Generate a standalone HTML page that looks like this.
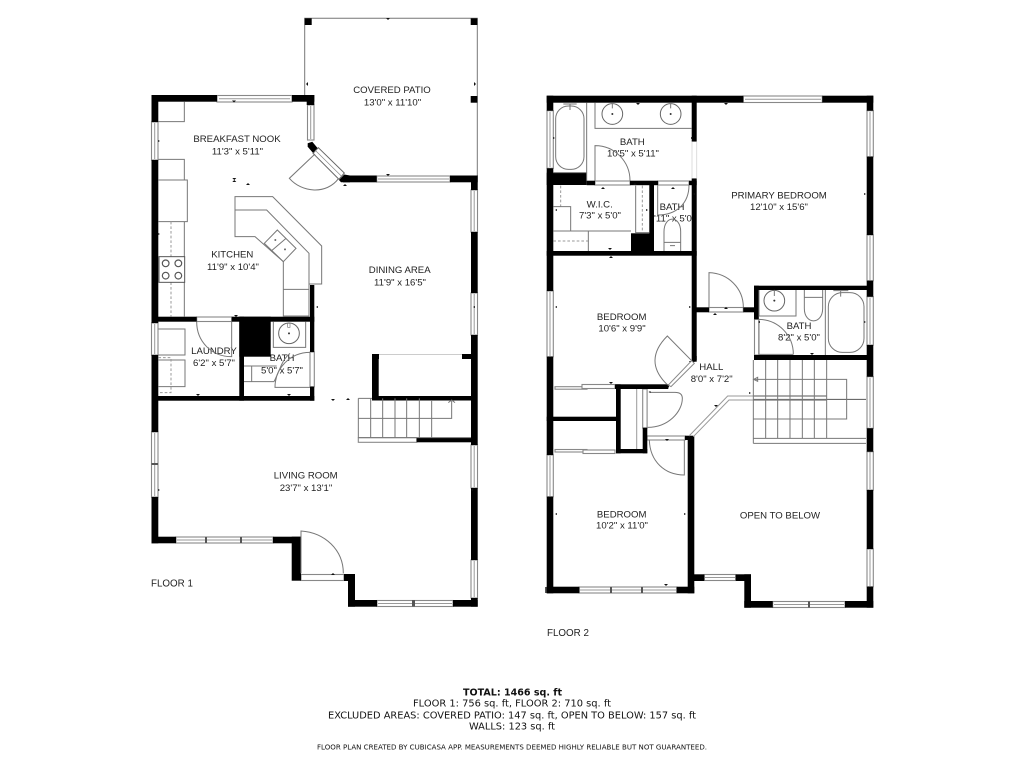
<!DOCTYPE html>
<html><head><meta charset="utf-8"><style>
html,body{margin:0;padding:0;background:#fff}
svg{display:block}
text{font-family:"Liberation Sans",sans-serif;font-size:9.6px;fill:#222;text-anchor:middle}
.b{font-family:"DejaVu Sans",sans-serif;font-size:10px;fill:#111}
.l{fill:none;stroke:#777;stroke-width:1}
.z{fill:none;stroke:#777;stroke-width:3}
.d{fill:none;stroke:#999;stroke-width:3;stroke-dasharray:8 6}
.k rect{fill:#000}
.w rect{fill:#fff;stroke:#888;stroke-width:1.1}
.m{fill:none;stroke:#999;stroke-width:1}
</style></head><body>
<svg width="1024" height="768" viewBox="0 0 1024 768" xmlns="http://www.w3.org/2000/svg">
<defs><clipPath id="c"><rect x="654" y="200" width="38" height="30"/></clipPath></defs>
<rect width="1024" height="768" fill="#fff"/>

<!-- labels -->
<text x="392" y="93">COVERED PATIO</text><text x="392.500" y="105.700">13'0" x 11'10"</text>
<text x="237" y="142">BREAKFAST NOOK</text><text x="237.500" y="154.700">11'3" x 5'11"</text>
<text x="232.300" y="257.700">KITCHEN</text><text x="233" y="270">11'9" x 10'4"</text>
<text x="399.700" y="273">DINING AREA</text><text x="400" y="285.700">11'9" x 16'5"</text>
<text x="214" y="354">LAUNDRY</text><text x="214" y="366">6'2" x 5'7"</text>
<text x="282" y="361">BATH</text><text x="282" y="373.300">5'0" x 5'7"</text>
<text x="305.700" y="478.700">LIVING ROOM</text><text x="306" y="491">23'7" x 13'1"</text>
<text x="632.300" y="145">BATH</text><text x="633" y="156.700">10'5" x 5'11"</text>
<text x="599.700" y="207.300">W.I.C.</text><text x="600" y="218.700">7'3" x 5'0"</text>
<text x="672" y="210">BATH</text><text x="672" y="221.700" clip-path="url(#c)">4'11" x 5'0"</text>
<text x="779" y="198.300">PRIMARY BEDROOM</text><text x="779" y="210">12'10" x 15'6"</text>
<text x="621.700" y="320">BEDROOM</text><text x="622" y="331.700">10'6" x 9'9"</text>
<text x="799" y="329">BATH</text><text x="799" y="340.700">8'2" x 5'0"</text>
<text x="711.300" y="370">HALL</text><text x="711.700" y="382">8'0" x 7'2"</text>
<text x="621.700" y="517.300">BEDROOM</text><text x="622" y="528.700">10'2" x 11'0"</text>
<text x="780" y="518.700">OPEN TO BELOW</text>
<text x="151" y="586.700" style="text-anchor:start;font-size:9.8px">FLOOR 1</text>
<text x="547" y="636" style="text-anchor:start;font-size:9.8px">FLOOR 2</text>

<text class="b" x="512.500" y="695.700" textLength="99" lengthAdjust="spacingAndGlyphs" style="font-weight:bold">TOTAL: 1466 sq. ft</text>
<text class="b" x="512" y="706.700" textLength="198" lengthAdjust="spacingAndGlyphs">FLOOR 1: 756 sq. ft, FLOOR 2: 710 sq. ft</text>
<text class="b" x="512" y="718.700" textLength="368" lengthAdjust="spacingAndGlyphs">EXCLUDED AREAS: COVERED PATIO: 147 sq. ft, OPEN TO BELOW: 157 sq. ft</text>
<text class="b" x="512" y="729.700" textLength="86" lengthAdjust="spacingAndGlyphs">WALLS: 123 sq. ft</text>
<text class="b" x="512" y="749.300" textLength="390" lengthAdjust="spacingAndGlyphs" style="font-size:7px">FLOOR PLAN CREATED BY CUBICASA APP. MEASUREMENTS DEEMED HIGHLY RELIABLE BUT NOT GUARANTEED.</text>

<!-- patio -->
<path class="l" d="M304.700 96V18.300H477.300V176"/>
<path d="M379 354.500H462" stroke="#ccc" stroke-width="1" fill="none"/>

<!-- windows -->
<g class="w">
<rect x="217" y="95.500" width="75" height="6.500"/><rect x="376.700" y="176" width="73.300" height="6"/><rect x="176" y="537" width="97" height="6"/><rect x="377" y="600.500" width="76" height="6"/><rect x="301" y="574.500" width="43" height="6"/>
<rect x="151.500" y="122" width="6.500" height="38"/><rect x="471" y="190" width="6.500" height="42"/><rect x="471" y="293" width="6.500" height="42"/><rect x="151.500" y="323" width="6.500" height="32"/><rect x="151.500" y="432" width="6.500" height="65"/><rect x="471" y="445" width="6.500" height="43"/><rect x="471" y="560" width="6.500" height="38"/><rect x="307.500" y="105" width="6.500" height="35"/>
<rect x="196.700" y="317" width="35" height="4.500"/><rect x="310" y="352" width="4.300" height="34.700"/><rect x="358.300" y="437.700" width="58.400" height="4.600"/>
<rect x="743.300" y="96" width="79" height="6.500"/><rect x="579.300" y="587" width="97.400" height="6"/><rect x="704.300" y="574.500" width="31.400" height="6"/><rect x="772.700" y="601.500" width="72.300" height="6"/>
<rect x="547" y="110.700" width="6.300" height="57.600"/><rect x="547" y="291" width="6.300" height="65.700"/><rect x="547" y="455" width="6.300" height="41.700"/>
<rect x="867" y="110.700" width="6.300" height="46"/><rect x="867" y="235" width="6.300" height="45.700"/><rect x="867" y="296.700" width="6.300" height="48.300"/><rect x="867" y="376.700" width="6.300" height="51.600"/><rect x="867" y="451.700" width="6.300" height="38.300"/><rect x="867" y="549" width="6.300" height="37.700"/>
<rect x="595" y="181" width="35" height="4"/><rect x="658" y="181" width="31" height="4"/><rect x="709" y="307.500" width="34.300" height="4.500"/><rect x="754.500" y="319.300" width="4.300" height="35.700"/><rect x="647" y="436" width="38" height="4"/><rect x="642.700" y="389" width="4.400" height="39"/>
<rect x="555" y="386.700" width="32" height="2.500"/><rect x="582" y="384.500" width="33" height="4"/><rect x="555" y="449.500" width="32" height="2.500"/><rect x="583" y="450" width="32" height="3.500"/>
</g>
<path class="m" d="M219 98.700H290M378 179H449M177 540H272M378 603.500H452M154.700 123V159M474.200 191V231M474.200 294V334M154.700 324V354M154.700 433V496M474.200 446V487M474.200 561V597M310.700 106V139M745 99.200H821M580 590H676M705 577.500H735M774 604.500H844M550 112V167M550 292V356M550 456V496M870 112V156M870 236V280M870 298V344M870 378V427M870 452V489M870 550V586"/>
<path d="M205 537h2v6h-2zM240 537h2v6h-2zM412 600h3v6.500h-3zM545 587h2v6h-2zM610 587h2v6h-2zM641 587h2v6h-2zM808 601.500h2v6h-2zM151.500 463h6.500v2h-6.500z" fill="#555"/>

<!-- walls -->
<g class="k">
<rect x="151.500" y="95" width="65.500" height="6.700"/><rect x="292" y="95" width="22.300" height="6.700"/>
<rect x="151.500" y="95" width="6.800" height="27"/><rect x="151.500" y="160" width="6.800" height="163"/><rect x="151.500" y="355" width="6.800" height="77"/><rect x="151.500" y="497" width="6.800" height="46.300"/>
<rect x="306.700" y="95" width="7.600" height="10"/>
<rect x="343" y="175.500" width="33.700" height="6.800"/><rect x="450" y="175.500" width="27.700" height="6.800"/>
<rect x="471" y="175.500" width="6.700" height="14.500"/><rect x="471" y="232" width="6.700" height="61"/><rect x="471" y="335" width="6.700" height="110"/><rect x="471" y="488" width="6.700" height="72"/><rect x="471" y="598" width="6.700" height="8.700"/>
<rect x="151.500" y="536.700" width="24.500" height="6.600"/><rect x="273" y="536.700" width="28" height="6.600"/>
<rect x="291.700" y="536.700" width="9.300" height="44"/><rect x="344" y="574" width="11" height="7"/><rect x="348" y="574" width="7" height="32.700"/>
<rect x="348" y="600" width="29" height="6.700"/><rect x="453" y="600" width="24.700" height="6.700"/>
<rect x="151.500" y="316.700" width="45.200" height="5"/><rect x="231.700" y="316.700" width="82.600" height="5"/>
<rect x="239.300" y="316.700" width="31.400" height="40"/><rect x="239.300" y="316.700" width="4.700" height="84"/>
<rect x="310" y="285" width="4.300" height="67"/><rect x="310" y="386.700" width="4.300" height="14"/>
<rect x="151.500" y="396" width="162.800" height="4.700"/>
<rect x="372" y="354" width="6.700" height="46"/><rect x="372" y="354" width="7" height="5"/><rect x="462" y="354" width="11" height="5"/><rect x="372" y="396" width="100" height="4.500"/>
<rect x="416.700" y="437.700" width="55" height="4.600"/>
<rect x="304.700" y="18.300" width="7" height="6.700"/><rect x="470.700" y="18.300" width="6.700" height="6.700"/><rect x="470.700" y="96" width="6.700" height="6.700"/>

<rect x="546.700" y="95.700" width="196.600" height="7"/><rect x="822.300" y="95.700" width="51" height="7"/>
<rect x="546.700" y="95.700" width="6.600" height="15"/><rect x="546.700" y="168.300" width="6.600" height="122.700"/><rect x="546.700" y="356.700" width="6.600" height="98.300"/><rect x="546.700" y="496.700" width="6.600" height="96.600"/>
<rect x="546.700" y="586.700" width="32.600" height="6.600"/><rect x="676.700" y="586.700" width="17.600" height="6.600"/>
<rect x="687.700" y="436" width="6.600" height="157.300"/>
<rect x="866.700" y="95.700" width="6.600" height="15"/><rect x="866.700" y="156.700" width="6.600" height="78.300"/><rect x="866.700" y="280.700" width="6.600" height="16"/><rect x="866.700" y="345" width="6.600" height="31.700"/><rect x="866.700" y="428.300" width="6.600" height="23.400"/><rect x="866.700" y="490" width="6.600" height="59"/><rect x="866.700" y="586.700" width="6.600" height="21"/>
<rect x="744.300" y="601" width="28.400" height="6.700"/><rect x="845" y="601" width="28.300" height="6.700"/><rect x="744.300" y="574.300" width="6.700" height="33.400"/>
<rect x="694" y="574.300" width="10.300" height="6.700"/><rect x="735.700" y="574.300" width="15.300" height="6.700"/>
<rect x="691.700" y="95.700" width="5" height="46"/><rect x="691.700" y="178.300" width="5" height="183.400"/>
<rect x="546.700" y="172.700" width="40" height="12.300"/><rect x="586.700" y="180.700" width="8.300" height="4.500"/><rect x="630" y="180.700" width="28" height="4.500"/><rect x="689" y="180.700" width="7.700" height="4.500"/>
<rect x="649.300" y="185" width="4.700" height="65"/><rect x="631" y="233.300" width="23" height="18"/>
<rect x="546.700" y="251" width="150" height="4.700"/>
<rect x="615" y="384.300" width="53.300" height="4.700"/><rect x="616" y="384.300" width="4.700" height="69"/><rect x="616" y="449" width="31.300" height="4.300"/><rect x="642.700" y="427.700" width="4.600" height="25.600"/><rect x="546.700" y="416.700" width="69.300" height="4.300"/>
<rect x="685" y="435.700" width="8.300" height="4.300"/>
<rect x="754" y="285.700" width="119" height="4.300"/><rect x="754" y="285.700" width="4.800" height="33.600"/><rect x="754" y="355" width="119" height="5"/>
<rect x="692" y="307.300" width="17" height="5"/><rect x="743.300" y="307.300" width="15.500" height="5"/>
</g>
<polygon points="307.700,143.300 312.300,141.700 317.700,148.300 313.300,153.300 307.700,146.700" fill="#000"/>
<polygon points="339,180 344.300,174.500 350,175.500 350,182.300 341,182.300" fill="#000"/>
<polygon points="689,361 692,361 692,356 696.700,356 696.700,360 691.500,364" fill="#000"/>
<polygon points="666,384.300 670,384.300 668.300,388" fill="#000"/>
<path d="M636.700 389V449" stroke="#999" stroke-width="1" fill="none"/>

<!-- floor 1 upper fixtures -->
<g transform="translate(140,10) scale(.33333)">
<path class="z" d="M55 335H133V275"/>
<path class="z" d="M55 448H133V510H142V635H55M55 510H133M133 635V920"/>
<path class="d" d="M93 635V920"/>
<rect x="57" y="740" width="77" height="77" fill="#fff" stroke="#555" stroke-width="3"/>
<g fill="none" stroke="#555" stroke-width="3.500"><circle cx="77" cy="760" r="10"/><circle cx="115" cy="760" r="10"/><circle cx="77" cy="797" r="10"/><circle cx="115" cy="797" r="10"/></g>
<path class="z" d="M285 600V560H398L545 708V822H507V730L380 600H285V680H345L430 755V838H507V918H430V838M507 838V730"/>
<path class="z" fill="#fff" d="M373 700L412 660L468 715L430 755ZM395 722L438 685"/>
<circle cx="406" cy="690" r="3" fill="#666"/><circle cx="435" cy="718" r="3" fill="#666"/>
<path d="M519 430L597 508L613 489L535 413Z" fill="#fff" stroke="#666" stroke-width="3"/>
<path d="M526 421L605 499" stroke="#888" stroke-width="2" fill="none"/>
<path class="z" d="M525 432L448 505C485 548 560 555 596 505"/>
</g>

<!-- floor 1 lower fixtures -->
<g transform="translate(140,310) scale(.33333)">
<path class="z" d="M55 57H135V135H55M55 150H135V230H55"/>
<path class="d" d="M55 143H93V248H55"/>
<path class="z" d="M275 35V140C215 140 170 95 170 35"/>
<path class="z" d="M400 35V112H497V35"/>
<circle cx="447" cy="70" r="31" fill="none" stroke="#666" stroke-width="3"/>
<circle cx="447" cy="70" r="3" fill="#333"/>
<rect x="443" y="40" width="7" height="12" fill="#fff" stroke="#777" stroke-width="2"/>
<path class="z" d="M312 168H410M312 215H402M335 168V215M510 232H405C405 175 450 127 510 127"/>
<path class="z" d="M402 215C420 180 425 150 450 130"/>
<path class="z" d="M655 265V383M692 265V383M728 265V383M765 265V383M800 265V383M838 265V383M875 270V383M655 265H696M655 325H935V272M655 383H993"/>
<path class="z" d="M483 790V663C555 668 610 720 610 790"/>
<path d="M925 278L935 270L945 278" class="z"/>
</g>

<!-- floor 2 upper fixtures -->
<g transform="translate(535,90) scale(.33333)">
<path class="z" d="M55 248H155V38"/>
<rect x="62" y="48" width="85" height="190" rx="38" fill="none" stroke="#777" stroke-width="3"/>
<path class="z" d="M85 42H125M105 42V60"/>
<path class="z" d="M180 38V115H470"/>
<g fill="none" stroke="#666" stroke-width="3"><circle cx="232" cy="72" r="31"/><circle cx="407" cy="72" r="31"/></g>
<circle cx="232" cy="72" r="3" fill="#333"/><circle cx="407" cy="72" r="3" fill="#333"/>
<path class="z" d="M232 40V55M407 40V55"/>
<path class="z" d="M155 248V272M180 272V167C240 167 285 215 285 272"/>
<rect x="471" y="155" width="14" height="110" fill="#fff"/>
<path d="M485 155V265M471 155V265" fill="none" stroke="#ddd" stroke-width="3"/>
<path class="z" d="M302 287V428H343"/>
<path class="d" d="M322 287V428M77 287V350M55 453H160"/>
<path class="z" d="M55 350H107V423H55M55 423H288M160 423V483"/>
<path class="z" d="M368 285V375C425 375 462 340 462 285"/>
<path class="z" d="M387 483V425C387 375 437 375 437 425V483M387 457H437M405 467H420"/>
<path class="z" d="M672 600V678H783V600"/>
<circle cx="718" cy="632" r="31" fill="none" stroke="#666" stroke-width="3"/><circle cx="718" cy="632" r="3" fill="#333"/>
<path class="z" d="M718 603V618M808 600V655C808 705 863 705 863 655V600M808 622H863M871 600V795"/>
<rect x="880" y="608" width="107" height="179" rx="42" fill="none" stroke="#777" stroke-width="3"/>
<path class="z" d="M895 602H940M917 602V620"/>
<path class="z" d="M775 793H672V688C730 690 775 735 775 793"/>
<path class="z" d="M522 652V548C580 550 625 595 625 652"/>
<path class="z" d="M470 812L397 738C350 785 345 835 398 885"/>
<path d="M400 885L470 812L478 820L408 890Z" fill="#fff" stroke="#888" stroke-width="3"/>
</g>

<!-- floor 2 lower fixtures -->
<g transform="translate(535,340) scale(.33333)">
<path class="z" d="M338 262C400 262 442 215 442 175Q442 157 420 157H345"/>
<path class="z" d="M448 300V405C390 405 345 365 343 300"/>
<path class="z" style="stroke:#999" d="M462 288L578 168H655M475 290L582 180H655"/>
<path class="z" style="stroke:#555" d="M655 168H875M655 180H875M875 178H993"/>
<path class="z" d="M655 60V310M692 60V295M728 60V295M765 60V295M802 60V295M838 60V295M875 60V295M655 118H935V237H655M655 178H875M655 295H993M655 310H993"/>
<path class="z" d="M668 112L656 118L668 124Z"/>
</g>

<!-- small dimension ticks -->
<path fill="#111" d="M234 102.500l-2-2h4zM388 176l-2-2h4zM248 183l2 2h-4zM345 184l2 2h-4zM388 20l2-2h-4zM306 84l2 2v-4zM476 84l-2 2v-4zM160 141l-2-1v2zM160 234l-2-1v2zM473 307l2-1v2zM316 307l2-1v2zM236 317l2-2h-4zM198 396l2-2h-4zM289 396l2-2h-4zM333 401l2-2h-4zM348 398l2 2h-4zM160 490l-2-1v2zM471 490l2-1v2zM333 573l2 2h-4zM234.300 180l-2-2h4zM234.300 180l-2 2h4z"/>
<path fill="#111" d="M638 105l2-2h-4zM726 105l2-2h-4zM555 138l-2-1v2zM693 138l-2-1v2zM635 183l2 2h-4zM603 187l2 2h-4zM673 187l2 2h-4zM648 210l-2-1v2zM555 210l2-1v2zM693 194l2-1v2zM866 194l-2-1v2zM610 250l2-2h-4zM611 256l2 2h-4zM555 307l2-1v2zM691 307l-2-1v2zM726 307l2 2h-4zM715 313l2 2h-4zM758 322l2-1v2zM866 322l-2-1v2zM812 355l2-2h-4zM611 384l2-2h-4zM751 393l-2-1v2zM716 407l2-2h-4zM667 441l2-2h-4zM555 514l2-1v2zM686 514l-2-1v2zM666 586l2-2h-4zM648.500 392l2-1v2z"/>
</svg>
</body></html>
